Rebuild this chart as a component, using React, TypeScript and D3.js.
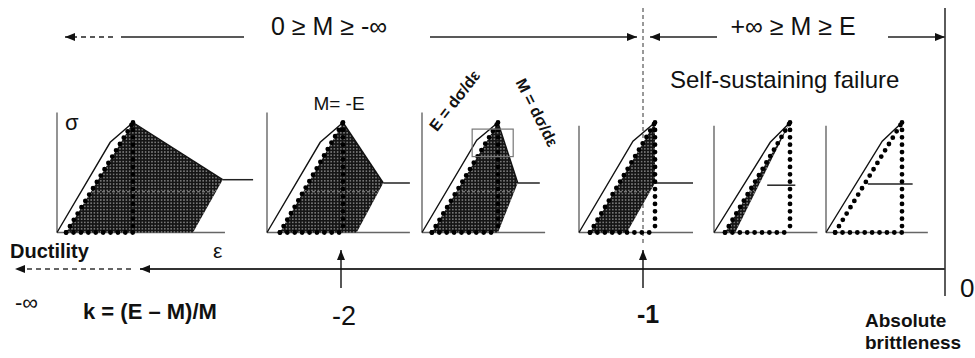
import React from 'react';
import * as d3 from 'd3';

// six small stress-strain sketches, strain in units of the peak strain, stress in units of the peak stress
const panels = ['softening', 'M = -E', 'steep', 'M = -inf', 'snap', 'vertical'];
const elbowStrain = [0.70, 0.70, 0.72, 0.71, 0.74, 0.74];
const elbowStress = [0.82, 0.82, 0.84, 0.83, 0.82, 0.83];
const reloadStrain = [0.12, 0.17, 0.13, 0.145, 0.145, 0.12];
const softEndStrain = [2.18, 1.53, 1.26, 1.0, 0.70, 0.55];
const residualStress = [0.48, 0.45, 0.45, 0.45, 0.43, 0.44];
const residualEndStrain = [2.58, 1.88, 1.55, 1.5, 1.07, 1.14];
const unloadStrain = [1.79, 1.18, 1.0, 0.63, 0.28, 0.12];
const shadeKnee = [true, true, true, true, false, false];
const axisEndStrain = [2.21, 1.88, 1.62, 1.5, 1.36, 1.34];
const axisTopStress = [1.09, 1.09, 1.09, 0.97, 0.97, 0.97];
const guideStress = 0.37;
// little box on the third sketch (strain, stress)
const boxStrain = [0.66, 1.2];
const boxStress = [0.69, 0.94];

// brittleness index axis k = (E - M)/M
const kTicks = [-2, -1, 0];
const kLabels = ['-2', '-1', '0'];

// layout
const panelX = [57, 267, 422, 579, 714, 826];
const unitPx = 76;
const baseY = 232.5;
const peakY = 122.5;
const font = "'Liberation Sans', Arial, sans-serif";

export default function App() {
  const k = d3.scaleLinear().domain([-2, 0]).range([341, 945]);
  const y = d3.scaleLinear().domain([0, 1]).range([baseY, peakY]);
  const line = d3.line<[number, number]>();
  const axisY = 269;
  const topY = 37;

  const dots = { stroke: '#000', strokeWidth: 4.8, strokeLinecap: 'round' as const, strokeDasharray: '0 7.4', fill: 'none' };

  return (
    <div style={{ position: 'absolute', left: 0, top: 0 }}>
      <svg width={975} height={358} style={{ display: 'block', background: '#fff' }} fontFamily={font}>
        <defs>
          <pattern id="grain" width={3.2} height={3.2} patternUnits="userSpaceOnUse">
            <rect width={3.2} height={3.2} fill="#151515" />
            <circle cx={1.6} cy={1.6} r={0.75} fill="#a0a0a0" />
          </pattern>
          <marker id="ah" markerUnits="userSpaceOnUse" markerWidth={10} markerHeight={8} refX={10} refY={4} orient="auto">
            <path d="M0,0 L10,4 L0,8 z" fill="#111" />
          </marker>
        </defs>

        {/* top range annotations */}
        <line x1={113} y1={topY} x2={65} y2={topY} stroke="#222" strokeWidth={1.3} strokeDasharray="5 4" markerEnd="url(#ah)" />
        <line x1={121} y1={topY} x2={244} y2={topY} stroke="#222" strokeWidth={1.3} />
        <text x={329} y={35} fontSize={25} textAnchor="middle" fill="#111">0 ≥ M ≥ -∞</text>
        <line x1={430} y1={topY} x2={637} y2={topY} stroke="#222" strokeWidth={1.3} markerEnd="url(#ah)" />
        <line x1={717} y1={topY} x2={650} y2={topY} stroke="#222" strokeWidth={1.3} markerEnd="url(#ah)" />
        <text x={793} y={35} fontSize={25} textAnchor="middle" fill="#111">+∞ ≥ M ≥ E</text>
        <line x1={888} y1={topY} x2={945} y2={topY} stroke="#222" strokeWidth={1.3} markerEnd="url(#ah)" />
        <text x={670} y={88} fontSize={24} fill="#111">Self-sustaining failure</text>

        {/* k = -1 divider */}
        <line x1={k(-1)} y1={8} x2={k(-1)} y2={243} stroke="#333" strokeWidth={1} strokeDasharray="4 3" />
        <line x1={k(0)} y1={8} x2={k(0)} y2={296} stroke="#333" strokeWidth={1.6} />

        {panels.map((p, i) => {
          const x = d3.scaleLinear().domain([0, 1]).range([panelX[i], panelX[i] + unitPx]);
          const outline: [number, number][] = [[x(0), y(0)], [x(elbowStrain[i]), y(elbowStress[i])], [x(1), y(1)]];
          const shadePts: [number, number][] = [[x(reloadStrain[i]), y(0)], [x(1), y(1)]];
          if (shadeKnee[i]) shadePts.push([x(softEndStrain[i]), y(residualStress[i])]);
          shadePts.push([x(unloadStrain[i]), y(0)]);
          const clipId = `clip${i}`;
          return (
            <g key={p}>
              <clipPath id={clipId}>
                <path d={line(shadePts) + 'Z'} />
              </clipPath>
              {/* axes */}
              <line x1={x(0)} y1={y(axisTopStress[i])} x2={x(0)} y2={y(0)} stroke="#666" strokeWidth={1.4} />
              <line x1={x(0)} y1={y(0)} x2={x(axisEndStrain[i])} y2={y(0)} stroke="#666" strokeWidth={1.4} />
              {/* shaded energy area */}
              <path d={line(shadePts) + 'Z'} fill="url(#grain)" stroke="none" />
              <line x1={x(0)} x2={x(3)} y1={y(guideStress)} y2={y(guideStress)} stroke="#9a9a9a" strokeWidth={1} strokeDasharray="3 2" clipPath={`url(#${clipId})`} />
              {/* loading curve */}
              <path d={line(outline) ?? ''} fill="none" stroke="#111" strokeWidth={1.4} />
              {softEndStrain[i] > 1 && (
                <line x1={x(1)} y1={y(1)} x2={x(softEndStrain[i])} y2={y(residualStress[i])} stroke="#111" strokeWidth={1.4} />
              )}
              <line x1={x(softEndStrain[i])} y1={y(residualStress[i])} x2={x(residualEndStrain[i])} y2={y(residualStress[i])} stroke="#222" strokeWidth={1.5} />
              {/* elastic reloading, dotted */}
              <line x1={x(reloadStrain[i])} y1={y(0)} x2={x(1)} y2={y(1)} {...dots} />
              <line x1={x(1)} y1={y(1)} x2={x(1)} y2={y(0)} {...dots} />
              <line x1={x(reloadStrain[i])} y1={y(0)} x2={x(1)} y2={y(0)} {...dots} />
              {i === 2 && (
                <rect x={x(boxStrain[0])} y={y(boxStress[1])} width={x(boxStrain[1]) - x(boxStrain[0])} height={y(boxStress[0]) - y(boxStress[1])} fill="none" stroke="#777" strokeWidth={1.2} />
              )}
            </g>
          );
        })}

        {/* panel labels */}
        <text x={65} y={130} fontSize={22} fill="#111">σ</text>
        <text x={213} y={258} fontSize={21} fill="#111">ε</text>
        <text x={339} y={110} fontSize={19} textAnchor="middle" fill="#111">M= -E</text>
        <text transform="translate(459,104) rotate(-52)" fontSize={16} fontWeight="bold" textAnchor="middle" fill="#111">E = dσ/dε</text>
        <text transform="translate(532,115) rotate(63)" fontSize={16} fontWeight="bold" textAnchor="middle" fill="#111">M = dσ/dε</text>

        {/* k axis */}
        <line x1={k(0)} y1={axisY} x2={140} y2={axisY} stroke="#333" strokeWidth={2} markerEnd="url(#ah)" />
        <line x1={131} y1={axisY} x2={15} y2={axisY} stroke="#333" strokeWidth={1.3} strokeDasharray="5 4" markerEnd="url(#ah)" />
        {kTicks.slice(0, 2).map(t => (
          <line key={t} x1={k(t)} y1={288} x2={k(t)} y2={250} stroke="#111" strokeWidth={1.4} markerEnd="url(#ah)" />
        ))}
        <text x={k(-2) + 3} y={325} fontSize={27} textAnchor="middle" fill="#111">{kLabels[0]}</text>
        <text x={k(-1) + 5} y={323} fontSize={25} fontWeight="bold" textAnchor="middle" fill="#111">{kLabels[1]}</text>
        <text x={k(0) + 15} y={297} fontSize={26} fill="#111">{kLabels[2]}</text>

        <text x={10} y={258} fontSize={20} fontWeight="bold" fill="#111">Ductility</text>
        <text x={15} y={310} fontSize={22} fill="#111">-∞</text>
        <text x={83} y={319} fontSize={22} fontWeight="bold" fill="#111">k = (E – M)/M</text>
        <text x={865} y={327} fontSize={19} fontWeight="bold" fill="#111">Absolute</text>
        <text x={865} y={349} fontSize={19} fontWeight="bold" fill="#111">brittleness</text>
      </svg>
    </div>
  );
}
